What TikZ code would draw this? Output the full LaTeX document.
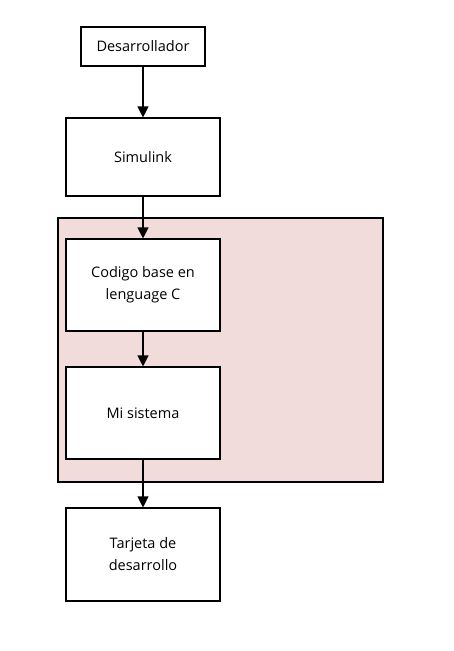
\documentclass[tikz,border=0pt]{standalone}
\usepackage{fontspec}
\setmainfont{Open Sans}
\usetikzlibrary{arrows.meta}
\definecolor{rosado}{HTML}{F2DCDB}
\tikzset{
  caja/.style={draw, fill=white, line width=1.1pt, inner sep=0pt, align=center, font=\fontsize{14.5}{22}\selectfont},
  flecha/.style={-{Triangle[width=11pt,length=11pt]}, line width=1.1pt}
}
\begin{document}
\begin{tikzpicture}[x=1pt, y=-1pt]
      \useasboundingbox[fill=white] (0,0) rectangle (453,651);

      \node[draw, fill=rosado, line width=1.1pt, minimum width=325pt, minimum height=264pt, inner sep=0pt] (zona) at (220.5,350) {};

      \node[caja, minimum width=124pt, minimum height=39pt] (dev) at (143,46.5) {Desarrollador};
      \node[caja, minimum width=154pt, minimum height=78pt] (sim) at (143,157) {Simulink};
      \node[caja, minimum width=154pt, minimum height=92pt] (cod) at (143,285) {Codigo base en\\lenguage C};
      \node[caja, minimum width=154pt, minimum height=92pt] (sis) at (143,413) {Mi sistema};
      \node[caja, minimum width=154pt, minimum height=93pt] (tar) at (143,554.5) {Tarjeta de\\desarrollo};

      \draw[flecha] (dev) -- (sim);
      \draw[flecha] (sim) -- (cod);
      \draw[flecha] (cod) -- (sis);
      \draw[flecha] (sis) -- (tar);
\end{tikzpicture}
\end{document}
